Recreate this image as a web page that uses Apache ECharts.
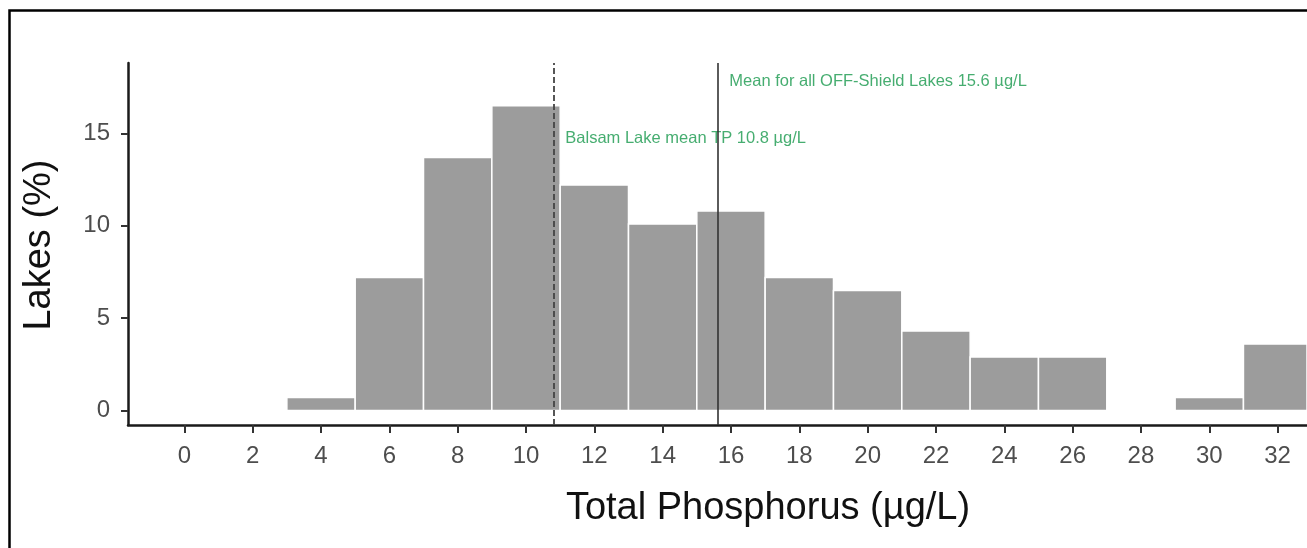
<!DOCTYPE html>
<html>
<head>
<meta charset="utf-8">
<title>Total Phosphorus distribution</title>
<script src="https://cdn.jsdelivr.net/npm/echarts@6/dist/echarts.min.js"></script>
<style>
  html, body { margin: 0; padding: 0; background: #ffffff; }
  #chart { width: 1307px; height: 548px; }
</style>
</head>
<body>
<div id="chart"></div>
<script>
// Histogram bins of total phosphorus (µg/L) and the share of lakes in each bin (%)
const binStart = [3, 5, 7, 9, 11, 13, 15, 17, 19, 21, 23, 25, 27, 29, 31];
const binEnd   = [5, 7, 9, 11, 13, 15, 17, 19, 21, 23, 25, 27, 29, 31, 33];
const lakesPct = [0.7, 7.2, 13.7, 16.5, 12.2, 10.1, 10.8, 7.2, 6.5, 4.3, 2.9, 2.9, 0, 0.7, 3.6];

// Tick labels
const xTicks = [0, 2, 4, 6, 8, 10, 12, 14, 16, 18, 20, 22, 24, 26, 28, 30, 32];
const yTicks = [0, 5, 10, 15];

// Reference means
const meanValues = [10.8, 15.6];
const meanLabels = ['Balsam Lake mean TP 10.8 µg/L', 'Mean for all OFF-Shield Lakes 15.6 µg/L'];
const meanLabelY = [14.75, 17.8];

const FONT = '"Liberation Sans", Arial, sans-serif';

const histData = binStart.map((s, i) => [s, binEnd[i], lakesPct[i]]);
const annotData = meanValues.map((v, i) => ({ value: [v, meanLabelY[i]], name: meanLabels[i] }));

const chart = echarts.init(document.getElementById('chart'), null, { renderer: 'canvas' });

chart.setOption({
  animation: false,
  backgroundColor: '#ffffff',
  grid: { left: 128, right: 0, top: 63, bottom: 123, containLabel: false },
  xAxis: {
    type: 'value',
    min: -1.65,
    max: 32.86,
    splitLine: { show: false },
    axisLine: { show: true, onZero: false, lineStyle: { color: '#1a1a1a', width: 2.5 } },
    axisTick: { show: true, length: 8, customValues: xTicks, lineStyle: { color: '#333333', width: 2 } },
    axisLabel: { customValues: xTicks, margin: 19, color: '#4d4d4d', fontSize: 24, fontFamily: FONT }
  },
  yAxis: {
    type: 'value',
    min: -0.785,
    max: 18.81,
    splitLine: { show: false },
    axisLine: { show: true, onZero: false, lineStyle: { color: '#1a1a1a', width: 2.5 } },
    axisTick: { show: true, length: 7, customValues: yTicks, lineStyle: { color: '#333333', width: 2 } },
    axisLabel: { customValues: yTicks, margin: 18, color: '#4d4d4d', fontSize: 24, fontFamily: FONT }
  },
  series: [
    {
      type: 'custom',
      name: 'Lakes',
      data: histData,
      encode: { x: [0, 1], y: 2 },
      renderItem: function (params, api) {
        const lo = api.value(0), hi = api.value(1), v = api.value(2);
        if (!v) return null;
        const p0 = api.coord([lo, v]);
        const p1 = api.coord([hi, 0]);
        const rect = echarts.graphic.clipRectByRect(
          { x: p0[0], y: p0[1], width: p1[0] - p0[0], height: p1[1] - p0[1] },
          { x: params.coordSys.x, y: params.coordSys.y, width: params.coordSys.width, height: params.coordSys.height }
        );
        if (!rect) return null;
        return {
          type: 'rect',
          shape: rect,
          style: { fill: '#9c9c9c', stroke: '#ffffff', lineWidth: 1.5 }
        };
      },
      z: 2
    },
    {
      type: 'scatter',
      name: 'means',
      data: annotData,
      symbolSize: 0,
      silent: true,
      z: 4,
      label: {
        show: true,
        position: 'right',
        distance: 12,
        formatter: p => p.name,
        color: '#18994c',
        fontSize: 16.5,
        fontFamily: FONT
      },
      markLine: {
        silent: true,
        symbol: ['none', 'none'],
        label: { show: false },
        data: [
          { xAxis: meanValues[0], lineStyle: { type: [6, 3], color: '#444444', width: 1.8 } },
          { xAxis: meanValues[1], lineStyle: { type: 'solid', color: '#333333', width: 1.6 } }
        ]
      }
    }
  ],
  graphic: [
    {
      type: 'rect',
      shape: { x: 9.5, y: 10.5, width: 1400, height: 600 },
      style: { fill: 'none', stroke: '#000000', lineWidth: 2.5 },
      silent: true
    },
    {
      type: 'text',
      x: 768,
      y: 509,
      style: {
        text: 'Total Phosphorus (µg/L)',
        font: '38px ' + FONT,
        fill: '#111111',
        align: 'center',
        verticalAlign: 'middle'
      }
    },
    {
      type: 'text',
      x: 40,
      y: 245,
      rotation: Math.PI / 2,
      style: {
        text: 'Lakes (%)',
        font: '38px ' + FONT,
        fill: '#111111',
        align: 'center',
        verticalAlign: 'middle'
      }
    }
  ]
});
</script>
</body>
</html>
